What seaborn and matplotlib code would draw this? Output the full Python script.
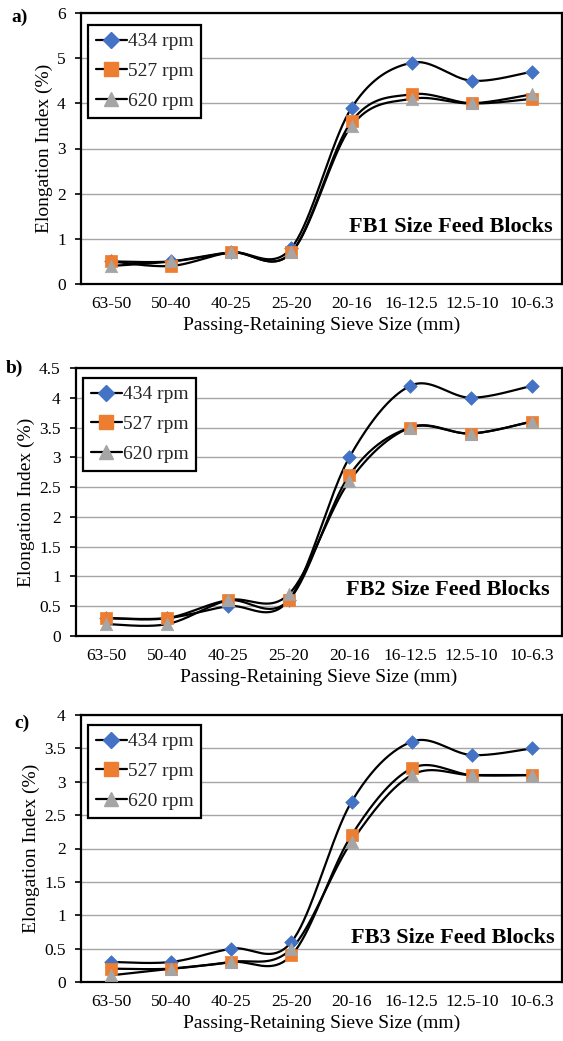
import numpy as np
import pandas as pd
import matplotlib
matplotlib.use("Agg")
import matplotlib.pyplot as plt
import seaborn as sns
from matplotlib.lines import Line2D
from matplotlib.ticker import FuncFormatter, MultipleLocator

# ---------------- data ----------------
categories = ["63-50", "50-40", "40-25", "25-20", "20-16", "16-12.5", "12.5-10", "10-6.3"]
speeds = ["434 rpm", "527 rpm", "620 rpm"]

fb1_434 = [0.5, 0.5, 0.7, 0.8, 3.9, 4.9, 4.5, 4.7]
fb1_527 = [0.5, 0.4, 0.7, 0.7, 3.6, 4.2, 4.0, 4.1]
fb1_620 = [0.4, 0.5, 0.7, 0.7, 3.5, 4.1, 4.0, 4.2]

fb2_434 = [0.3, 0.3, 0.5, 0.6, 3.0, 4.2, 4.0, 4.2]
fb2_527 = [0.3, 0.3, 0.6, 0.6, 2.7, 3.5, 3.4, 3.6]
fb2_620 = [0.2, 0.2, 0.6, 0.7, 2.6, 3.5, 3.4, 3.6]

fb3_434 = [0.3, 0.3, 0.5, 0.6, 2.7, 3.6, 3.4, 3.5]
fb3_527 = [0.2, 0.2, 0.3, 0.4, 2.2, 3.2, 3.1, 3.1]
fb3_620 = [0.1, 0.2, 0.3, 0.5, 2.1, 3.1, 3.1, 3.1]

panel_titles = ["FB1 Size Feed Blocks", "FB2 Size Feed Blocks", "FB3 Size Feed Blocks"]
panel_letters = ["a)", "b)", "c)"]
y_max = [6, 4.5, 4]
y_step = [1, 0.5, 0.5]

colors = ["#4472C4", "#ED7D31", "#A5A5A5"]
markers = ["D", "s", "^"]
msizes = [48, 64, 80]

# ---------------- helpers ----------------
def smooth_curve(xs, ys, n=40):
    pts = np.column_stack([xs, ys]).astype(float)
    m = len(pts)
    out = []
    for i in range(m - 1):
        p0 = pts[max(i - 1, 0)]
        p1 = pts[i]
        p2 = pts[i + 1]
        p3 = pts[min(i + 2, m - 1)]
        c1 = p1 + (p2 - p0) / 6.0
        c2 = p2 - (p3 - p1) / 6.0
        t = np.linspace(0, 1, n, endpoint=(i == m - 2))[:, None]
        seg = ((1 - t) ** 3) * p1 + 3 * ((1 - t) ** 2) * t * c1 + 3 * (1 - t) * t ** 2 * c2 + t ** 3 * p2
        out.append(seg)
    out = np.vstack(out)
    return out[:, 0], out[:, 1]

sns.set_theme(style="white")
plt.rcParams["font.family"] = ["Liberation Serif", "DejaVu Serif"]

W, H = 563, 1041
fig = plt.figure(figsize=(W / 100, H / 100), dpi=100)

# axes rectangles in pixels: left, right, top, bottom
rects = [(81, 562, 13, 284), (76, 562, 368, 636), (81, 562, 715, 982)]
legend_pos = [(88, 25), (83, 378), (88, 725)]
text_pos = [(553, 227), (550, 590), (555, 938)]
letter_pos = [(11, 17), (6, 368), (14, 723)]

all_data = [
    [fb1_434, fb1_527, fb1_620],
    [fb2_434, fb2_527, fb2_620],
    [fb3_434, fb3_527, fb3_620],
]

xpos = np.arange(len(categories))

for p in range(3):
    l, r, t, b = rects[p]
    ax = fig.add_axes([l / W, 1 - b / H, (r - l) / W, (b - t) / H])
    for s in range(3):
        vals = all_data[p][s]
        sx, sy = smooth_curve(xpos, vals)
        df_line = pd.DataFrame({"x": sx, "y": sy})
        sns.lineplot(data=df_line, x="x", y="y", sort=False, estimator=None,
                     color="black", lw=1.6, ax=ax, zorder=3)
        df_pts = pd.DataFrame({"x": xpos, "y": vals})
        sns.scatterplot(data=df_pts, x="x", y="y", marker=markers[s], s=msizes[s],
                        color=colors[s], edgecolor=colors[s], linewidth=0.5,
                        ax=ax, zorder=4, legend=False)

    ax.set_xlim(-0.5, len(categories) - 0.5)
    ax.set_ylim(0, y_max[p])
    ax.yaxis.set_major_locator(MultipleLocator(y_step[p]))
    ax.yaxis.set_major_formatter(FuncFormatter(lambda v, pos: f"{v:g}"))
    ax.set_xticks(xpos)
    ax.set_xticklabels(categories)
    ax.grid(axis="y", color="#A6A6A6", lw=1.0)
    ax.grid(axis="x", visible=False)
    ax.set_axisbelow(True)
    for sp in ax.spines.values():
        sp.set_color("black")
        sp.set_linewidth(1.6)
    ax.tick_params(axis="x", direction="in", length=4, width=1.2, color="black",
                   labelsize=12.5, pad=9, labelcolor="black")
    ax.tick_params(axis="y", direction="out", length=4, width=1.2, color="black",
                   left=True, labelsize=12.5, pad=7, labelcolor="black")
    ax.set_ylabel("Elongation Index (%)", fontsize=14, color="black", labelpad=3)
    ax.set_xlabel("Passing-Retaining Sieve Size (mm)", fontsize=14, color="black", labelpad=3)

    handles = [Line2D([], [], color="black", lw=1.6, marker=markers[s],
                      markerfacecolor=colors[s], markeredgecolor=colors[s],
                      markersize=[8, 9.5, 10][s]) for s in range(3)]
    lx, ly = legend_pos[p]
    leg = ax.legend(handles, speeds, loc="upper left",
                    bbox_to_anchor=((lx - l) / (r - l), 1 - (ly - t) / (b - t)),
                    borderaxespad=0, fontsize=14, frameon=True, fancybox=False,
                    handlelength=1.6, handletextpad=0.05, labelspacing=0.62,
                    borderpad=0.4)
    leg.get_frame().set_edgecolor("black")
    leg.get_frame().set_linewidth(1.6)
    leg.get_frame().set_facecolor("white")
    leg.get_frame().set_alpha(1)
    leg.set_zorder(10)

    tx, ty = text_pos[p]
    ax.text((tx - l) / (r - l), 1 - (ty - t) / (b - t), panel_titles[p],
            transform=ax.transAxes, ha="right", va="center",
            fontsize=16, fontweight="bold", color="black", zorder=6)

    px, py = letter_pos[p]
    fig.text(px / W, 1 - py / H, panel_letters[p], ha="left", va="center",
             fontsize=14, fontweight="bold", color="black")

fig.savefig("out.png", dpi=100)
